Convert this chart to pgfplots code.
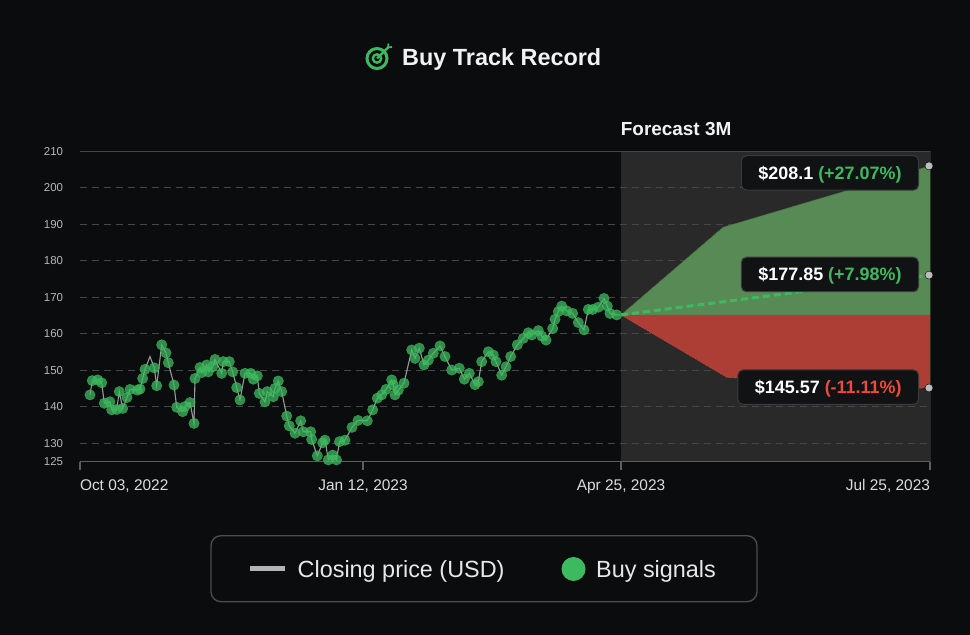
\documentclass[border=0pt]{standalone}
\usepackage{pgfplots}
\pgfplotsset{compat=1.18}
\usepackage{pgfplotstable}
\usepackage{xcolor}
\usepackage{fontspec}
\setmainfont{Liberation Sans}

\definecolor{bg}{HTML}{0B0C0E}
\definecolor{fcbg}{HTML}{292929}
\definecolor{gridgray}{HTML}{474747}
\definecolor{axisgray}{HTML}{5E5E5E}
\definecolor{sig}{HTML}{3DBA5F}
\definecolor{pricegray}{HTML}{B4B4B4}
\definecolor{upfill}{HTML}{588A55}
\definecolor{upedge}{HTML}{3F6E3E}
\definecolor{dnfill}{HTML}{AC3E36}
\definecolor{dnedge}{HTML}{D2453A}
\definecolor{dnred}{HTML}{EE4A3D}
\definecolor{dotgray}{HTML}{BDBDBD}
\definecolor{boxbg}{HTML}{111214}
\definecolor{boxedge}{HTML}{3A3A3A}
\definecolor{titlecol}{HTML}{F2F2F2}
\definecolor{xtickcol}{HTML}{DCDCDC}
\definecolor{ytickcol}{HTML}{B8B8B8}
\definecolor{legedge}{HTML}{4D4D4D}
\definecolor{legtext}{HTML}{E8E8E8}

\pagecolor{bg}

% x: position along the time axis (0 = Oct 03 2022, 850 = Jul 25 2023)
% p: closing price, b: price where a buy signal is marked (nan = none)
\pgfplotstableread{
x p b
10 143.3 143.3
12.3 147.2 147.2
17.7 147.4 147.4
21.7 146.6 146.6
24.3 141.0 141.0
30 141.4 141.4
31.7 139.2 139.2
36.7 139.3 139.3
39.3 144.2 144.2
42.7 139.6 139.6
47 142.6 142.6
50 144.8 144.8
57.3 144.6 144.6
60 144.9 144.9
62.7 147.8 147.8
65 150.3 150.3
70 153.8 nan
74.3 150.7 150.7
76.7 145.8 145.8
81.7 157.0 157.0
86 154.8 154.8
88.3 152.1 152.1
94 146.0 146.0
96.7 139.9 139.9
102.7 138.7 138.7
105 140.1 140.1
110 141.2 141.2
114 135.5 135.5
115 147.8 147.8
120 150.8 150.8
121.7 149.4 149.4
126.7 151.5 151.5
128.3 149.6 149.6
132.7 151.0 151.0
135 153.0 153.0
141.7 149.2 149.2
143.3 152.4 152.4
149.3 152.4 152.4
152.7 149.6 149.6
156.7 145.3 145.3
160 141.9 141.9
165 149.2 149.2
170.7 149.2 149.2
173.3 147.6 147.6
177.3 148.5 148.5
179.3 143.7 143.7
185 141.4 141.4
187.3 144.2 144.2
193.3 142.8 142.8
195 145.1 145.1
198.3 147.1 147.1
201.7 144.2 144.2
206.7 137.5 137.5
209.3 134.8 134.8
215 132.8 132.8
220.7 136.2 136.2
223.3 133.2 133.2
230.7 133.2 133.2
231.7 131.1 131.1
237.3 126.6 126.6
242.7 130.2 130.2
245 130.9 130.9
248.3 125.5 125.5
252.7 126.8 126.8
256.5 125.5 125.5
259.5 130.5 130.5
265 130.9 130.9
272 134.4 134.4
278 136.3 136.3
287.3 136.2 136.2
292.7 139.2 139.2
297.3 142.4 142.4
301.7 143.3 143.3
306 144.8 144.8
311.7 147.4 147.4
313.3 146.0 146.0
315 143.3 143.3
318.3 144.6 144.6
324 146.5 146.5
331.7 155.6 155.6
335 153.3 153.3
339.3 156.1 156.1
344 151.5 151.5
348.3 152.8 152.8
353.3 154.7 154.7
360 156.7 156.7
365 153.8 153.8
371.7 150.1 150.1
379.3 150.6 150.6
384.3 147.6 147.6
389.3 149.2 149.2
395 146.1 146.1
398.3 146.9 146.9
401.7 152.4 152.4
408.3 155.1 155.1
413.3 154.2 154.2
416 152.4 152.4
421.7 148.7 148.7
426 151.0 151.0
430.7 153.8 153.8
437.3 157.0 157.0
443.3 158.8 158.8
448.3 160.3 160.3
451.7 159.7 159.7
458.3 160.9 160.9
461.7 159.4 159.4
466 158.3 158.3
472.7 161.5 161.5
475 164.0 164.0
478.3 166.1 166.1
481.7 167.6 167.6
486.7 166.3 166.3
492.7 165.6 165.6
498.3 163.1 163.1
504 161.1 161.1
508.3 166.7 166.7
512.7 166.7 166.7
518.3 167.3 167.3
524 169.7 169.7
527.3 167.6 167.6
530 165.6 165.6
536.7 165.2 165.2
540 165.2 nan
}\prices

\begin{document}
\begin{tikzpicture}
\path (0bp,0bp) rectangle (970bp,635bp);

% title with target icon
\draw[sig, line width=3bp] (377bp,576.5bp) circle (10bp);
\draw[sig, line width=2.4bp] (377bp,576.5bp) circle (4.2bp);
\draw[sig, line width=2.2bp] (377bp,576.5bp) -- (388bp,587.5bp);
\draw[sig, line width=1.8bp] (388bp,587.5bp) -- (388.5bp,591.5bp);
\draw[sig, line width=1.8bp] (388bp,587.5bp) -- (392bp,588bp);
\node[anchor=base west, inner sep=0pt, text=titlecol,
  font=\fontsize{23.5}{28}\selectfont\bfseries] at (402bp,569.3bp) {Buy Track Record};

\node[anchor=base west, inner sep=0pt, text=titlecol,
  font=\fontsize{19}{23}\selectfont\bfseries] at (620.7bp,499bp) {Forecast 3M};

\begin{axis}[
  at={(80bp,173.3bp)}, anchor=south west,
  scale only axis, width=850bp, height=310.4bp,
  xmin=0, xmax=850, ymin=125, ymax=210,
  clip=false,
  set layers,
  axis x line*=bottom, axis y line*=left,
  x axis line style={draw=axisgray, line width=1.2bp, -},
  y axis line style={draw=none},
  xtick={0,283,541,850},
  xticklabels={\makebox[0pt][l]{Oct 03, 2022},{Jan 12, 2023},{Apr 25, 2023},\makebox[0pt][r]{Jul 25, 2023}},
  xtick align=outside, major tick length=8bp,
  xtick style={draw=axisgray, line width=1.2bp},
  xticklabel style={font=\fontsize{15.5}{18}\selectfont, text=xtickcol, inner sep=0pt,
    text height=11.5bp, text depth=0pt, yshift=-9bp},
  ytick={125,130,140,150,160,170,180,190,200},
  extra y ticks={210},
  extra y tick style={major grid style={solid, draw=gridgray, line width=1bp}},
  ytick align=inside,
  ytick style={draw=none},
  yticklabel style={font=\fontsize{11.5}{14}\selectfont, text=ytickcol, inner sep=0pt, xshift=-16.7bp},
  /pgf/number format/assume math mode=true,
  ymajorgrids=true,
  major grid style={draw=gridgray, line width=1bp, dash pattern=on 7bp off 5bp},
]
% forecast background
\addplot[on layer=axis background, fill=fcbg, draw=none]
  coordinates {(541,125) (851,125) (851,210) (541,210)};
% forecast bands
\addplot[fill=upfill, draw=none]
  coordinates {(541,165.2) (643,189.2) (850,206) (850,165.2)};
\addplot[fill=dnfill, draw=none]
  coordinates {(541,165.2) (647,148.1) (840,145.1) (850,145.7) (850,165.2)};
\addplot[upedge, line width=0.8bp, densely dotted]
  coordinates {(541,165.2) (643,189.2) (850,206)};
\addplot[dnedge, line width=0.8bp, densely dotted]
  coordinates {(541,165.2) (647,148.1) (840,145.1) (850,145.7)};
\addplot[sig, line width=3bp, dash pattern=on 7bp off 4bp]
  coordinates {(541,165.2) (850,176.1)};
% buy signals and closing price
\addplot[sig, only marks, mark=*, mark size=5.2bp, unbounded coords=discard,
  mark options={fill=sig, draw=none, opacity=0.75}]
  table[x=x, y=b] {\prices};
\addplot[pricegray, line width=1.1bp, opacity=0.85, mark=none]
  table[x=x, y=p] {\prices};
% end points of forecast
\addplot[only marks, mark=*, mark size=4bp, mark options={fill=dotgray, draw=none}]
  coordinates {(849,206) (849,176.1) (849,145.2)};
\end{axis}

% forecast labels
\tikzset{lbl/.style={anchor=east, fill=boxbg, draw=boxedge, line width=1bp,
  rounded corners=5bp, minimum height=34.5bp, text height=13bp, text depth=0pt,
  inner xsep=17bp, font=\fontsize{18}{21}\selectfont\bfseries}}
\node[lbl] at (919bp,462.1bp) {\textcolor{white}{\$208.1} \textcolor{sig}{(+27.07\%)}};
\node[lbl] at (919bp,360.5bp) {\textcolor{white}{\$177.85} \textcolor{sig}{(+7.98\%)}};
\node[lbl] at (919bp,247.8bp) {\textcolor{white}{\$145.57} \textcolor{dnred}{(-11.11\%)}};

% legend
\draw[legedge, line width=1.3bp, rounded corners=10bp] (211bp,33.3bp) rectangle (757bp,99.3bp);
\draw[pricegray, line width=5bp] (250bp,66bp) -- (285bp,66bp);
\node[anchor=base west, inner sep=0pt, text=legtext,
  font=\fontsize{23.5}{28}\selectfont] at (297.5bp,57.7bp) {Closing price (USD)};
\fill[sig] (573.5bp,66bp) circle (12bp);
\node[anchor=base west, inner sep=0pt, text=legtext,
  font=\fontsize{23.5}{28}\selectfont] at (596bp,57.7bp) {Buy signals};
\end{tikzpicture}
\end{document}
